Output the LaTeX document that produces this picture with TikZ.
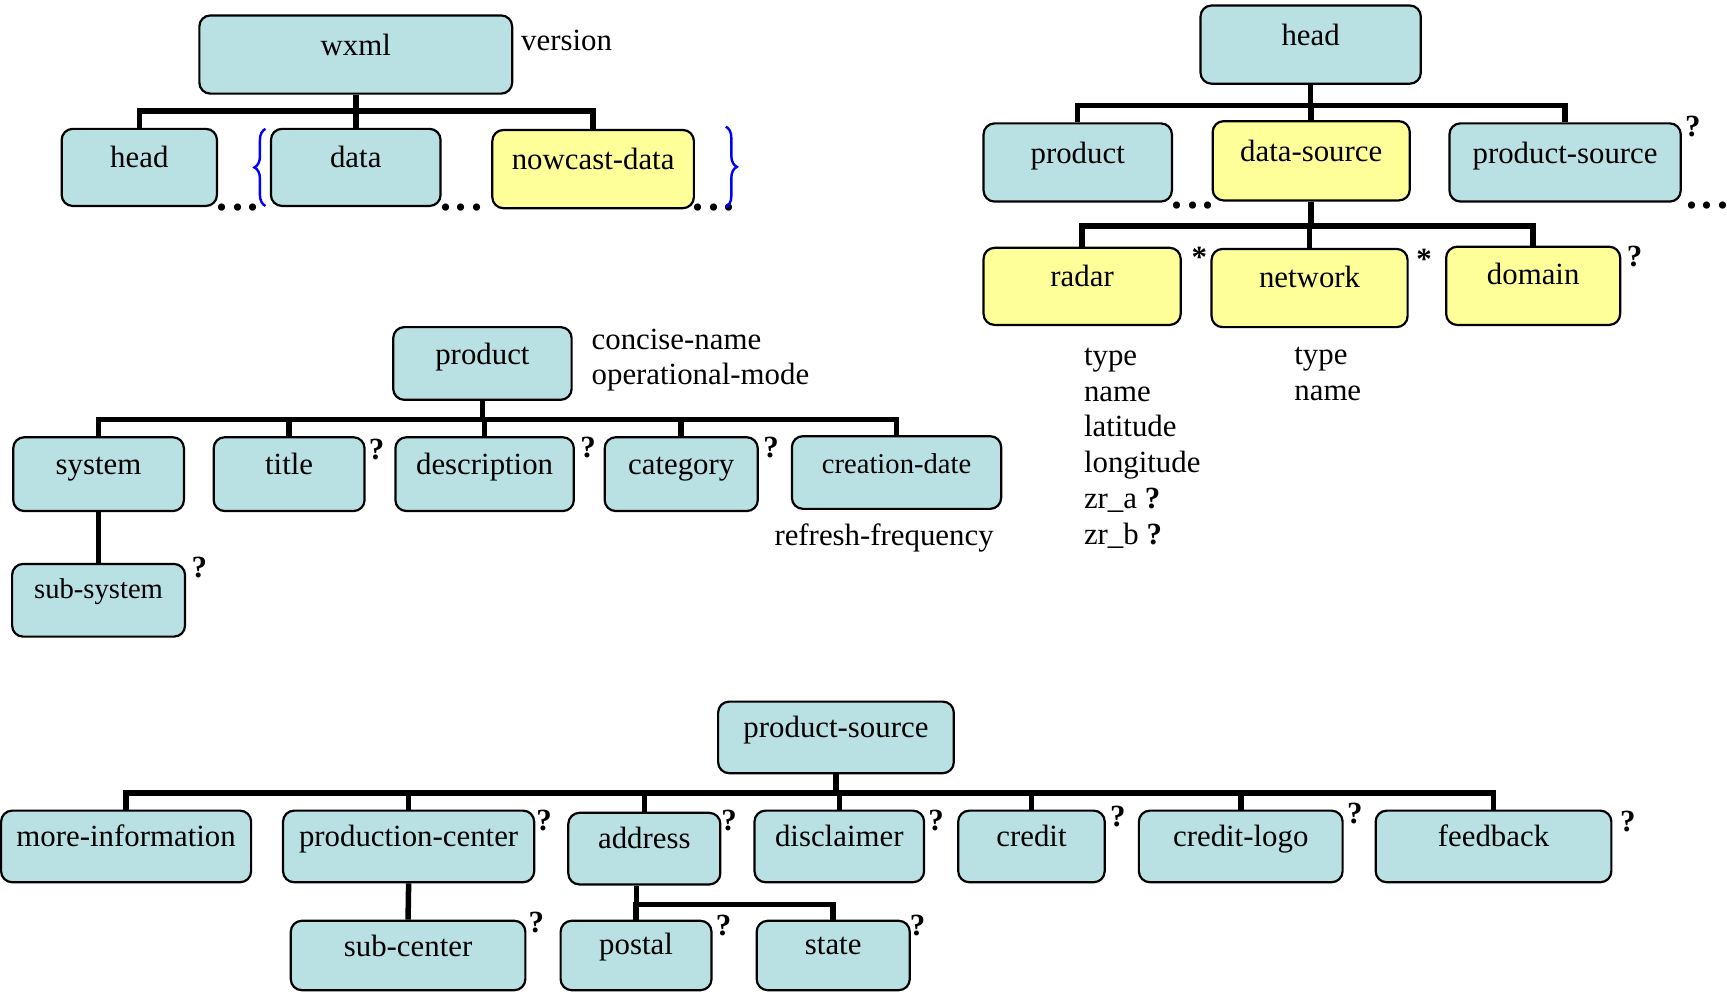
\documentclass[tikz,border=0pt]{standalone}
\usepackage{fontspec}
\setmainfont{Liberation Serif}
\usetikzlibrary{decorations.pathreplacing}
\definecolor{boxblue}{RGB}{185,224,227}
\definecolor{boxyellow}{RGB}{255,255,153}
\newcommand{\dotdotdot}{\textbf{.\kern4pt.\kern4pt.}}
\tikzset{
	box/.style={draw, line width=2pt, rounded corners=10pt, fill=boxblue, text height=0.8em, text depth=0.7em, inner sep=0pt},
	ybox/.style={box, fill=boxyellow},
	small/.style={font=\fontsize{26}{31}\selectfont},
	link/.style={line width=5pt},
	qm/.style={font=\fontsize{28}{34}\selectfont\bfseries, inner sep=0pt},
	dots/.style={font=\fontsize{40}{48}\selectfont\bfseries, inner sep=0pt},
	attr/.style={anchor=west, text height=1.75em, text depth=0.25em, inner sep=0pt},
	brc/.style={blue, line width=2.2pt, decorate, decoration={brace, amplitude=10pt}}
}
\begin{document}
\begin{tikzpicture}[x=1pt, y=-1pt, every node/.style={font=\fontsize{28}{34}\selectfont}]
		\useasboundingbox (0,0) rectangle (1568,900);
		\clip (0,0) rectangle (1568,900);
		% wxml
			\node[box, minimum width=284, minimum height=71] (wxml) at (323,49.5) {wxml};
			\node[box, minimum width=141, minimum height=70] (whead) at (126.5,152) {head};
			\node[box, minimum width=154, minimum height=70] (wdata) at (323,152) {data};
			\node[ybox, minimum width=183, minimum height=71] (wnow) at (538.5,153.5) {nowcast-data};
			\foreach \c in {whead,wdata,wnow} \draw[link] (wxml.south) -- ++(0,15) -| (\c.north);
			\node[attr] (ver) at (473,38) {version};
			\node[dots] (dhead) at (216,188) {\dotdotdot};
			\node[dots] (ddata) at (419,188) {\dotdotdot};
			\node[dots] (dnow) at (648,188) {\dotdotdot};
			\draw[brc] (241,187) -- (241,117);
			\draw[brc] (659,115) -- (659,188);
		% head
			\node[box, minimum width=200, minimum height=71] (head) at (1190,40.5) {head};
			\node[box, minimum width=171, minimum height=71] (hprod) at (978.5,147.5) {product};
			\node[ybox, minimum width=179, minimum height=72] (dsrc) at (1190.5,146) {data-source};
			\node[box, minimum width=210, minimum height=71] (hpsrc) at (1421,147.5) {product-source};
			\foreach \c in {hprod,dsrc,hpsrc} \draw[link] (head.south) -- ++(0,19) -| (\c.north);
			\node[dots] (dhprod) at (1083,187) {\dotdotdot};
			\node[qm] (qhpsrc) at (1537,115) {?};
			\node[dots] (dhpsrc) at (1550,187) {\dotdotdot};
		% data-source
			\node[ybox, minimum width=179, minimum height=70, text depth=0.85em] (radar) at (982.5,260) {radar};
			\node[ybox, minimum width=178, minimum height=71, text depth=0.85em] (network) at (1189,261.5) {network};
			\node[ybox, minimum width=158, minimum height=71, text depth=1.05em] (domain) at (1392,259.5) {domain};
			\foreach \c in {radar,network,domain} \draw[link] (dsrc.south) -- ++(0,22) -| (\c.north);
			\node[qm] (sradar) at (1089,234) {*};
			\node[qm] (snetwork) at (1293,235) {*};
			\node[qm] (qdomain) at (1484,233) {?};
			\foreach \t [count=\i] in {type,name,latitude,longitude,{zr\_a \textbf{?}},{zr\_b \textbf{?}}}
				\node[attr] (rattr\i) at (984,{324+32.6*(\i-1)}) {\t};
			\foreach \t [count=\i] in {type,name}
				\node[attr] (nattr\i) at (1175,{323+33.5*(\i-1)}) {\t};
		% product
			\node[box, minimum width=162, minimum height=66] (prod) at (438,330) {product};
			\node[attr] (cname) at (537,310) {concise-name};
			\node[attr] (opmode) at (537,342) {operational-mode};
			\node[box, minimum width=155, minimum height=67] (sys) at (89.5,430.5) {system};
			\node[box, minimum width=137, minimum height=67] (title) at (262.5,430.5) {title};
			\node[box, minimum width=162, minimum height=67] (desc) at (440,430.5) {description};
			\node[box, minimum width=139, minimum height=67] (cat) at (618.5,430.5) {category};
			\node[box, small, minimum width=190, minimum height=66] (cdate) at (814,429) {creation-date};
			\foreach \c in {sys,title,desc,cat,cdate} \draw[link] (prod.south) -- ++(0,17) -| (\c.north);
			\node[qm] (qtitle) at (342,408) {?};
			\node[qm] (qdesc) at (534,406) {?};
			\node[qm] (qcat) at (700,406) {?};
			\node[attr] (refr) at (703,488) {refresh-frequency};
			\node[box, small, minimum width=157, minimum height=66, text depth=1.2em] (subsys) at (89.5,545) {sub-system};
			\draw[link] (sys.south) -- (subsys.north);
			\node[qm] (qsubsys) at (181,515) {?};
		% product-source
			\node[box, minimum width=214, minimum height=65] (psrc) at (759,669.5) {product-source};
			\node[box, minimum width=227, minimum height=65] (minfo) at (114.5,768.5) {more-information};
			\node[box, minimum width=228, minimum height=65] (pcenter) at (371,768.5) {production-center};
			\node[box, minimum width=138, minimum height=65, text depth=0.9em] (addr) at (585,770.5) {address};
			\node[box, minimum width=154, minimum height=65] (discl) at (762,768.5) {disclaimer};
			\node[box, minimum width=133, minimum height=65] (credit) at (936.5,768.5) {credit};
			\node[box, minimum width=185, minimum height=65] (clogo) at (1126.5,768.5) {credit-logo};
			\node[box, minimum width=214, minimum height=65] (feed) at (1356,768.5) {feedback};
			\foreach \c in {minfo,pcenter,addr,discl,credit,clogo,feed} \draw[link] (psrc.south) -- ++(0,17) -| (\c.north);
			\node[qm] (qpcenter) at (494,745) {?};
			\node[qm] (qaddr) at (662,745) {?};
			\node[qm] (qdiscl) at (850,745) {?};
			\node[qm] (qcredit) at (1015,741) {?};
			\node[qm] (qclogo) at (1230,739) {?};
			\node[qm] (qfeed) at (1478,746) {?};
			\node[box, minimum width=213, minimum height=63] (subc) at (370.5,867.5) {sub-center};
			\node[box, minimum width=137, minimum height=63, text depth=0.95em] (postal) at (577.5,867.5) {postal};
			\node[box, minimum width=139, minimum height=63, text depth=0.95em] (state) at (756.5,867.5) {state};
			\draw[link] (pcenter.south) -- (subc.north);
			\foreach \c in {postal,state} \draw[link] ([xshift=-7pt]addr.south) -- ++(0,17) -| (\c.north);
			\node[qm] (qsubc) at (487,838) {?};
			\node[qm] (qpostal) at (657,840) {?};
			\node[qm] (qstate) at (833,840) {?};
	\end{tikzpicture}
\end{document}
